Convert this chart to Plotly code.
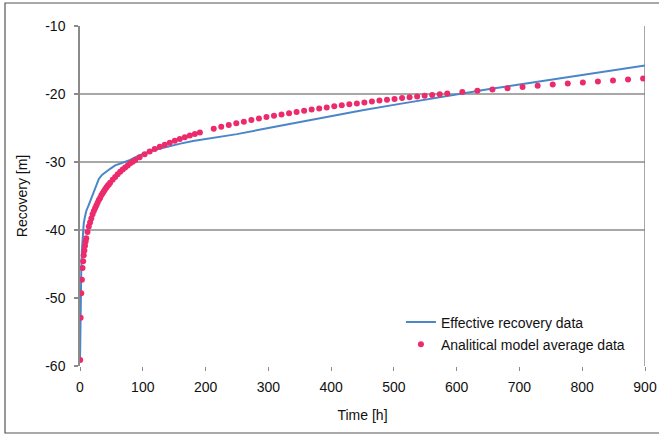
import plotly.graph_objects as go

# ---- data ----
effective_time = [0, 0.5, 1, 2, 3, 4, 6, 8, 10, 14, 18, 22, 26, 30, 35, 40, 48, 56, 64, 72, 80,
                  90, 100, 120, 140, 160, 180, 200, 220, 250, 300, 350, 400, 450, 500, 550, 600,
                  650, 700, 750, 800, 850, 900]
effective_recovery = [-59.5, -55.0, -50.0, -46.0, -43.0, -41.0, -39.0, -38.0, -37.2, -36.3, -35.3,
                      -34.2, -33.2, -32.5, -31.9, -31.5, -31.0, -30.5, -30.2, -30.0, -29.7,
                      -29.2, -28.8, -28.2, -27.7, -27.3, -26.9, -26.6, -26.3, -25.9, -25.0, -24.1,
                      -23.2, -22.4, -21.6, -20.8, -20.0, -19.3, -18.6, -17.9, -17.2, -16.5, -15.8]

model_time = [0.3, 1, 2, 3, 4, 5, 6, 7, 8, 9, 10, 12, 14, 16, 18, 20, 22, 24, 26, 28, 30, 32, 34,
              36, 38, 40, 42, 44, 46, 48, 52, 56, 60, 64, 68, 72, 76, 80, 84, 88,
              95, 103, 111, 119, 127, 135, 143, 151, 159, 167, 175, 183, 191,
              213, 225, 237, 249, 261, 273, 285, 297, 309, 321, 333, 345, 357, 369, 381, 393,
              405, 417, 429, 441, 453, 465, 477, 489, 501, 513, 525, 537, 549, 561, 573, 585,
              609, 633, 657, 681, 705, 729, 753, 777, 801, 825, 849, 873, 897]
model_recovery = [-59.1, -52.9, -49.3, -47.3, -45.6, -44.6, -43.7, -43.0, -42.3, -41.7, -41.2,
                  -40.3, -39.5, -38.9, -38.3, -37.7, -37.2, -36.8, -36.4, -36.0, -35.6, -35.3,
                  -34.9, -34.6, -34.3, -34.0, -33.75, -33.5, -33.3, -33.05, -32.6, -32.2, -31.8,
                  -31.45, -31.1, -30.8, -30.5, -30.2, -29.95, -29.7,
                  -29.3, -28.85, -28.45, -28.1, -27.77, -27.46, -27.16, -26.88, -26.62, -26.36,
                  -26.12, -25.89, -25.67,
                  -25.11, -24.83, -24.56, -24.31, -24.07, -23.84, -23.62, -23.40, -23.20, -23.00,
                  -22.82, -22.64, -22.46, -22.29, -22.12, -21.97, -21.81, -21.66, -21.52, -21.38,
                  -21.24, -21.10, -20.97, -20.84, -20.72, -20.60, -20.48, -20.37, -20.25, -20.14,
                  -20.03, -19.92,
                  -19.71, -19.51, -19.32, -19.14, -18.96, -18.79, -18.62, -18.46, -18.31, -18.15,
                  -18.00, -17.86, -17.72]

x_ticks = [0, 100, 200, 300, 400, 500, 600, 700, 800, 900]
x_tick_labels = ["0", "100", "200", "300", "400", "500", "600", "700", "800", "900"]
y_ticks = [-60, -50, -40, -30, -20, -10]
y_tick_labels = ["-60", "-50", "-40", "-30", "-20", "-10"]
grid_levels = [-20, -30, -40]
x_range = [0, 900]
y_range = [-60, -10]

FONT = "Liberation Sans, Arial, sans-serif"
GRID = "#8a8a8a"
FS = 14

fig = go.Figure()
fig.add_trace(go.Scatter(
    x=effective_time, y=effective_recovery, mode="lines",
    name="Effective recovery data", legendgroup="a",
    line=dict(color="#4A86C8", width=2),
))
fig.add_trace(go.Scatter(
    x=model_time, y=model_recovery, mode="markers",
    name="Analitical model average data", legendgroup="b",
    marker=dict(color="#EC2B6C", size=6, symbol="circle"),
))

shapes = []
for g in grid_levels:
    shapes.append(dict(type="line", xref="x", yref="y", x0=x_range[0], x1=x_range[1],
                       y0=g, y1=g, line=dict(color=GRID, width=1.5), layer="below"))
shapes.append(dict(type="line", xref="x", yref="y", x0=x_range[1], x1=x_range[1],
                   y0=y_range[0], y1=y_range[1], line=dict(color=GRID, width=1.5), layer="below"))
# outer frame
shapes.append(dict(type="rect", xref="paper", yref="paper",
                   x0=(5 - 80) / 565, x1=(663 - 80) / 565,
                   y0=(366 - 433) / 340, y1=(366 - 3) / 340,
                   line=dict(color="#555555", width=1.2), fillcolor="rgba(0,0,0,0)"))

fig.update_layout(
    width=659, height=435,
    margin=dict(l=80, r=14, t=26, b=69, autoexpand=False),
    paper_bgcolor="white", plot_bgcolor="white",
    font=dict(family=FONT, size=FS, color="#111111"),
    showlegend=True,
    legend=dict(x=0.568, y=0.175, xanchor="left", yanchor="top",
                bgcolor="rgba(0,0,0,0)", tracegroupgap=1,
                font=dict(family=FONT, size=FS, color="#111111")),
    shapes=shapes,
    xaxis=dict(range=x_range, tickvals=x_ticks, ticktext=x_tick_labels, showgrid=False,
               zeroline=False, automargin=False,
               showline=False, ticks="outside", ticklen=4, tickcolor=GRID, tickwidth=1,
               ticklabelstandoff=4, tickfont=dict(size=FS),
               title=dict(text="Time [h]", standoff=16, font=dict(size=FS))),
    yaxis=dict(range=y_range, tickvals=y_ticks, ticktext=y_tick_labels, showgrid=False,
               zeroline=False, automargin=False,
               showline=True, linecolor=GRID, linewidth=1.5,
               ticks="outside", ticklen=4, tickcolor=GRID, tickwidth=1.5,
               ticklabelstandoff=6, tickfont=dict(size=FS),
               title=dict(text="Recovery [m]", standoff=14, font=dict(size=FS))),
)

fig.write_html("out.html", config={"displayModeBar": False},
               post_script="document.body.style.margin='0';")
